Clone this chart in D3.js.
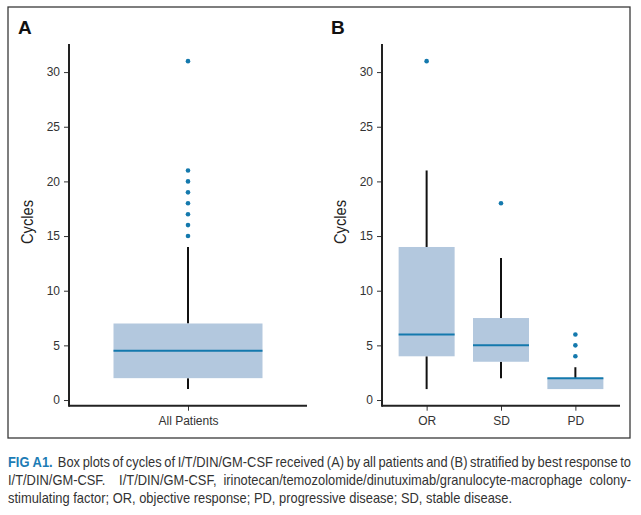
<!DOCTYPE html>
<html>
<head>
<meta charset="utf-8">
<script src="https://cdn.jsdelivr.net/npm/d3@7"></script>
<style>
  body { margin: 0; background: #fff; }
</style>
</head>
<body>
<svg id="chart" width="641" height="515" style="position:absolute;left:0;top:0"></svg>
<script>
// ---- data ----
const yTicks = [0, 5, 10, 15, 20, 25, 30];
const categoriesA = ["All Patients"];
const q1A = [2], medA = [4.5], q3A = [7], lowA = [1], highA = [14];
const outliersA = [[15, 16, 17, 18, 19, 20, 21, 31]];

const categoriesB = ["OR", "SD", "PD"];
const q1B = [4, 3.5, 1], medB = [6, 5, 2], q3B = [14, 7.5, 2], lowB = [1, 2, 1], highB = [21, 13, 3];
const outliersB = [[31], [18], [4, 5, 6]];

const captionLines = [
  ["FIG A1.", "Box plots of cycles of I/T/DIN/GM-CSF received (A) by all patients and (B) stratified by best response to"],
  [null, "I/T/DIN/GM-CSF.  I/T/DIN/GM-CSF, irinotecan/temozolomide/dinutuximab/granulocyte-macrophage colony-"],
  [null, "stimulating factor; OR, objective response; PD, progressive disease; SD, stable disease."]
];

const svg = d3.select("#chart");
svg.append("rect").attr("x", 8).attr("y", 7).attr("width", 622).attr("height", 431)
  .attr("fill", "none").attr("stroke", "#3a3a3a").attr("stroke-width", 1.3);

const boxFill = "#b3c8de", medColor = "#1479ad", dotColor = "#1479ad";
const font = "Liberation Sans, Arial, sans-serif";

function panel(opts) {
  const { letter, letterX, axisX, axisRight, cats, q1, med, q3, lo, hi, outs, boxW, pad, labelX } = opts;
  const y = d3.scaleLinear().domain([-0.52, 32.57]).range([405.7, 44]);
  const x = d3.scalePoint().domain(cats).range([axisX, axisRight]).padding(pad);
  const g = svg.append("g");

  g.append("text").attr("x", letterX).attr("y", 34).text(letter)
    .attr("font-family", font).attr("font-weight", "bold")
    .attr("font-size", 19).attr("fill", "#111");

  cats.forEach((c, i) => {
    const cx = x(c);
    g.append("line").attr("x1", cx).attr("x2", cx).attr("y1", y(lo[i])).attr("y2", y(q1[i]))
      .attr("stroke", "#111").attr("stroke-width", 2);
    g.append("line").attr("x1", cx).attr("x2", cx).attr("y1", y(hi[i])).attr("y2", y(q3[i]))
      .attr("stroke", "#111").attr("stroke-width", 2);
    g.append("rect").attr("x", cx - boxW / 2).attr("width", boxW)
      .attr("y", y(q3[i])).attr("height", Math.max(0, y(q1[i]) - y(q3[i])))
      .attr("fill", boxFill);
    g.append("line").attr("x1", cx - boxW / 2).attr("x2", cx + boxW / 2)
      .attr("y1", y(med[i])).attr("y2", y(med[i]))
      .attr("stroke", medColor).attr("stroke-width", 2);
    outs[i].forEach(v => {
      g.append("circle").attr("cx", cx).attr("cy", y(v)).attr("r", 2.3).attr("fill", dotColor);
    });
  });

  const ya = g.append("g").attr("transform", `translate(${axisX},0)`)
    .call(d3.axisLeft(y).tickValues(yTicks).tickSize(5).tickPadding(4));
  ya.select(".domain").remove();
  ya.selectAll(".tick line").attr("stroke", "#333");
  ya.selectAll(".tick text").attr("font-family", font).attr("font-size", 12).attr("fill", "#333");
  g.append("line").attr("x1", axisX).attr("x2", axisX).attr("y1", 44).attr("y2", 406.7)
    .attr("stroke", "#222").attr("stroke-width", 2);

  const xa = g.append("g").attr("transform", "translate(0,405.7)")
    .call(d3.axisBottom(x).tickSize(5).tickPadding(6));
  xa.select(".domain").remove();
  xa.selectAll(".tick line").attr("stroke", "#333");
  xa.selectAll(".tick text").attr("font-family", font).attr("font-size", 12).attr("fill", "#333");
  g.append("line").attr("x1", axisX).attr("x2", axisRight).attr("y1", 405.7).attr("y2", 405.7)
    .attr("stroke", "#222").attr("stroke-width", 2);

  g.append("text").attr("transform", `translate(${labelX},222) rotate(-90)`)
    .attr("text-anchor", "middle").text("Cycles")
    .attr("font-family", font).attr("font-size", 16).attr("fill", "#222")
    .attr("textLength", 44).attr("lengthAdjust", "spacingAndGlyphs");
}

panel({ letter: "A", letterX: 18, axisX: 69, axisRight: 307, cats: categoriesA,
  q1: q1A, med: medA, q3: q3A, lo: lowA, hi: highA, outs: outliersA,
  boxW: 149, pad: 0.5, labelX: 33 });
panel({ letter: "B", letterX: 331, axisX: 382, axisRight: 620, cats: categoriesB,
  q1: q1B, med: medB, q3: q3B, lo: lowB, hi: highB, outs: outliersB,
  boxW: 56, pad: 0.6, labelX: 346 });

// ---- caption: condensed, justified ----
const capFontSize = 14;
const capLeft = 8, capRight = 631;
const capG = svg.append("g");
const probe = capG.append("text").attr("font-family", font).attr("font-size", capFontSize)
  .text(captionLines[2][1]);
const scale = 504 / probe.node().getComputedTextLength();
probe.remove();
const spaceProbe = capG.append("text").attr("font-family", font).attr("font-size", capFontSize)
  .attr("xml:space", "preserve").text("a a");
const aProbe = capG.append("text").attr("font-family", font).attr("font-size", capFontSize).text("aa");
const spaceW = (spaceProbe.node().getComputedTextLength() - aProbe.node().getComputedTextLength()) * scale;
spaceProbe.remove(); aProbe.remove();

const baselines = [467, 485, 503];
captionLines.forEach((ln, li) => {
  const [lead, body] = ln;
  const items = [];
  if (lead) items.push({ t: lead, bold: true, gapAfter: 2 });
  body.split(/( +)/).forEach(tok => {
    if (tok.trim() === "") { if (items.length) items[items.length - 1].gapAfter = tok.length; }
    else items.push({ t: tok, bold: false, gapAfter: 0 });
  });
  if (lead && items.length) items[0].gapAfter = 2;
  items.forEach(it => {
    const tt = capG.append("text").attr("font-family", font).attr("font-size", capFontSize)
      .attr("font-weight", it.bold ? "bold" : "normal").text(it.t);
    it.w = tt.node().getComputedTextLength() * scale;
    tt.remove();
  });
  const totalW = d3.sum(items, d => d.w);
  const gapUnits = d3.sum(items.slice(0, -1), d => d.gapAfter);
  const justify = li < 2;
  const unit = justify ? (capRight - capLeft - totalW) / gapUnits : spaceW;
  let xPos = capLeft;
  items.forEach(it => {
    capG.append("text").attr("transform", `translate(${xPos},${baselines[li]}) scale(${scale},1)`)
      .attr("font-family", font).attr("font-size", capFontSize)
      .attr("font-weight", it.bold ? "bold" : "normal")
      .attr("fill", it.bold ? "#1c7cb5" : "#333").text(it.t);
    xPos += it.w + it.gapAfter * unit;
  });
});
</script>
</body>
</html>
